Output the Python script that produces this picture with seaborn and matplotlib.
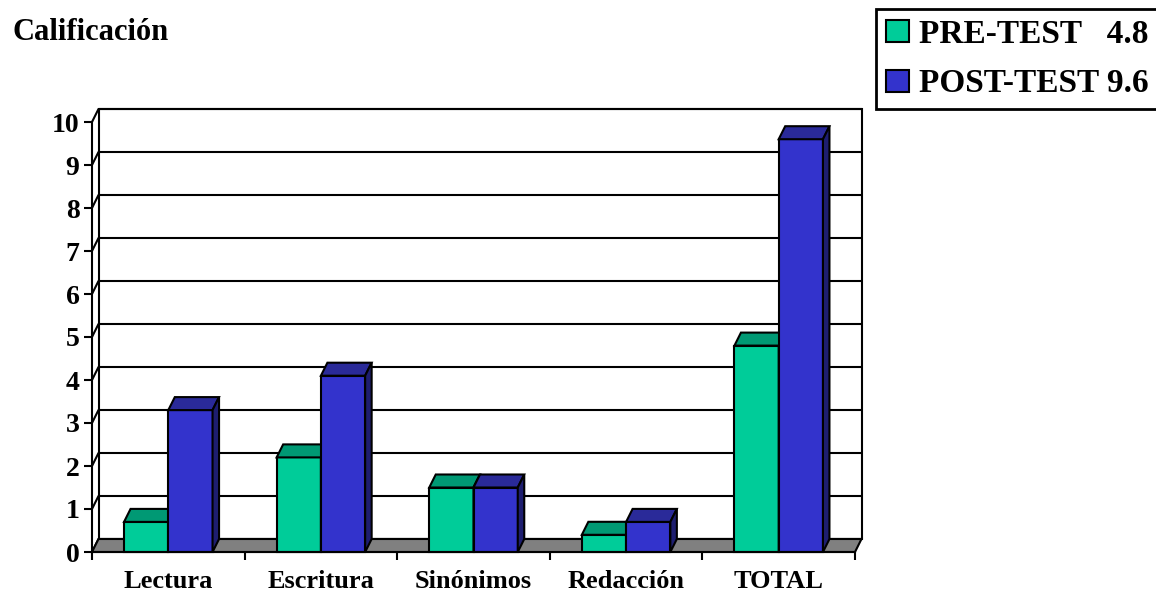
import numpy as np
import pandas as pd
import matplotlib
matplotlib.use("Agg")
import matplotlib.pyplot as plt
import seaborn as sns
from matplotlib.patches import Polygon, Rectangle

# ---------------- data ----------------
categories = ["Lectura", "Escritura", "Sinónimos", "Redacción", "TOTAL"]
series = ["PRE-TEST", "POST-TEST"]
pre_test = [0.7, 2.2, 1.5, 0.4, 4.8]
post_test = [3.3, 4.1, 1.5, 0.7, 9.6]
legend_labels = ["PRE-TEST   4.8", "POST-TEST 9.6"]
y_ticks = list(range(0, 11))
y_label = "Calificación"

# ---------------- style ----------------
front_colors = ["#00CC99", "#3333CC"]
top_colors = ["#009974", "#2A2A99"]
side_colors = ["#007A5C", "#1E1E70"]
floor_color = "#808080"

sns.set_theme(style="white")
plt.rcParams["font.family"] = ["Liberation Serif", "DejaVu Serif"]
plt.rcParams["font.weight"] = "bold"
plt.rcParams["text.color"] = "black"

W, H = 1156, 591
fig = plt.figure(figsize=(W / 100, H / 100), dpi=100)

# pixel geometry
x0_px, x1_px = 92, 855          # front plane x for -0.5 .. 4.5
y0_px, y10_px = 552, 122        # front plane y for 0 .. 10
dx_px, dy_px = 6.5, 13          # depth offset
ux = (x1_px - x0_px) / len(categories)
uy = (y0_px - y10_px) / 10.0
dx = dx_px / ux
dy = dy_px / uy

ax = fig.add_axes([x0_px / W, (H - y0_px) / H,
                   (x1_px + dx_px - x0_px) / W, (10 * uy + dy_px) / H])

df = pd.DataFrame({
    "Categoria": categories * 2,
    "Serie": [series[0]] * len(categories) + [series[1]] * len(categories),
    "Valor": pre_test + post_test,
})

sns.barplot(data=df, x="Categoria", y="Valor", hue="Serie",
            order=categories, hue_order=series, palette=front_colors,
            saturation=1, width=0.58, edgecolor="black", linewidth=1.5,
            legend=False, ax=ax)

ax.set_xlim(-0.5, len(categories) - 0.5 + dx)
ax.set_ylim(0, 10 + dy)
ax.set_xlabel("")
ax.set_ylabel("")

lw = 1.5
# back wall
xl, xr = -0.5 + dx, len(categories) - 0.5 + dx
ax.add_patch(Rectangle((xl, dy), xr - xl, 10, facecolor="white",
                       edgecolor="black", lw=lw, zorder=0.2, clip_on=False))
for v in y_ticks:
    ax.plot([xl, xr], [v + dy, v + dy], color="black", lw=lw, zorder=0.3,
            clip_on=False, solid_capstyle="butt")
    ax.plot([-0.5, xl], [v, v + dy], color="black", lw=lw, zorder=0.3,
            clip_on=False)

# floor
ax.add_patch(Polygon([(-0.5, 0), (len(categories) - 0.5, 0), (xr, dy), (xl, dy)],
                     closed=True, facecolor=floor_color, edgecolor="black",
                     lw=lw, zorder=0.5, clip_on=False))

# 3D bar faces
bars = []
for i, cont in enumerate(ax.containers):
    for p in cont:
        bars.append((p.get_x(), i, p))
bars.sort(key=lambda t: t[0])
for k, (_, i, p) in enumerate(bars):
    x, w, h = p.get_x(), p.get_width(), p.get_height()
    base = 2 + 3 * k
    p.set_zorder(base)
    p.set_clip_on(False)
    top = Polygon([(x, h), (x + w, h), (x + w + dx, h + dy), (x + dx, h + dy)],
                  closed=True, facecolor=top_colors[i], edgecolor="black",
                  lw=lw, zorder=base + 1, clip_on=False)
    side = Polygon([(x + w, 0), (x + w + dx, dy), (x + w + dx, h + dy), (x + w, h)],
                   closed=True, facecolor=side_colors[i], edgecolor="black",
                   lw=lw, zorder=base + 2, clip_on=False)
    ax.add_patch(top)
    ax.add_patch(side)

# spines
for s in ["top", "right"]:
    ax.spines[s].set_visible(False)
for s in ["left", "bottom"]:
    ax.spines[s].set_color("black")
    ax.spines[s].set_linewidth(lw)
    ax.spines[s].set_zorder(100)
ax.spines["left"].set_bounds(0, 10)
ax.spines["bottom"].set_bounds(-0.5, len(categories) - 0.5)

ax.set_yticks(y_ticks)
ax.set_yticklabels([str(v) for v in y_ticks])
ax.tick_params(axis="y", left=True, direction="out", length=6, width=lw,
               color="black", labelsize=20, pad=3, labelcolor="black")

ax.set_xticks([j - 0.5 for j in range(len(categories) + 1)])
ax.set_xticklabels([])
ax.set_xticks(range(len(categories)), minor=True)
ax.set_xticklabels(categories, minor=True)
ax.tick_params(axis="x", which="major", bottom=True, direction="out",
               length=5.5, width=lw, color="black")
ax.tick_params(axis="x", which="minor", bottom=True, length=0,
               labelsize=19, pad=13, labelcolor="black")

# legend
leg = fig.legend(handles=ax.containers, labels=legend_labels,
                 loc="upper left", bbox_to_anchor=(876 / W, 1 - 9 / H),
                 frameon=True, fancybox=False, edgecolor="black",
                 framealpha=1, prop={"size": 24, "weight": "bold"},
                 handlelength=0.7, handleheight=0.65, handletextpad=0.3,
                 borderpad=0.3, labelspacing=0.55, borderaxespad=0)
leg.get_frame().set_linewidth(2)
for t in leg.get_texts():
    t.set_color("black")

fig.text(12 / W, 1 - 32 / H, y_label, fontsize=22, fontweight="bold",
         va="center", ha="left", color="black")

fig.savefig("out.png", dpi=100)
